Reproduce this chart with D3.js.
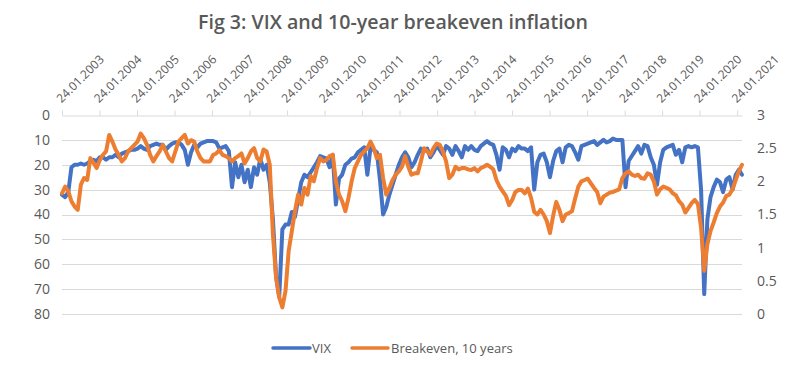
<!DOCTYPE html>
<html>
<head>
<meta charset="utf-8">
<script src="https://cdn.jsdelivr.net/npm/d3@7"></script>
<style>
  html, body { margin: 0; padding: 0; background: #fff; }
  svg { display: block; }
  text { font-family: "Open Sans", "Noto Sans", sans-serif; fill: #595959; }
</style>
</head>
<body>
<svg id="chart" width="789" height="370"></svg>
<script>
// ---- data (evenly spaced samples from startDate to endDate) ----
const startDate = "2003-01-24";
const endDate = "2021-03-12";
const tickYears = [2003,2004,2005,2006,2007,2008,2009,2010,2011,2012,2013,2014,2015,2016,2017,2018,2019,2020,2021];
const vixTicks = [0,10,20,30,40,50,60,70,80];
const breakevenTicks = [0,0.5,1,1.5,2,2.5,3];
const seriesNames = ["VIX", "Breakeven, 10 years"];

const vix = [
  32, 33, 31, 21, 20, 20, 19.5, 20, 19.5, 18.5, 18, 18.5,
  17, 17, 18, 17, 17, 16, 17, 15.5, 15, 14.5, 14, 14,
  13.5, 12.5, 13.5, 14, 12.5, 12, 11.5, 12, 12, 14, 12.5, 11.5,
  11, 11, 12, 14, 20, 15, 12, 13, 11.5, 11, 10.5, 10.5,
  10.5, 11, 13.5, 13, 12.5, 14.5, 29, 19, 25, 20, 27, 22,
  29, 21, 24, 17.5, 22, 20, 27, 42, 65, 73, 46, 44,
  44, 39, 41, 34, 27, 24, 25, 23, 21, 19, 16.5, 17,
  17.5, 21, 16, 36, 25.5, 24, 20, 19, 17.5, 17, 15, 14,
  13, 24, 13, 14, 15, 26, 40, 37, 32, 28, 24, 20,
  17, 15, 17, 21, 19, 16, 13.5, 14.5, 13.5, 17, 15, 12.5,
  14, 16, 12.5, 13.5, 16, 12.5, 14.5, 17, 12.5, 14, 12.5, 14,
  14.5, 12.5, 11.5, 10.5, 11.5, 12, 16, 22, 13, 14, 17, 13.5,
  14.5, 12.5, 13.5, 13.5, 14.5, 13, 30, 19, 16, 15.5, 19, 25,
  18.5, 14.5, 13.5, 19, 13, 12, 12.5, 15, 18, 12.5, 12, 11.5,
  11, 10.5, 12, 11, 10, 11, 10.5, 9.5, 10, 10, 10, 29,
  18.5, 16.5, 14.5, 12.5, 15.5, 12, 12.5, 17, 20, 28, 19, 14,
  13, 12.5, 12, 16, 14, 19, 13, 12.5, 13, 12.5, 13, 30,
  72, 42, 33, 29, 26, 27, 31, 26, 25, 30, 24, 22,
  24
];

const breakeven = [
  1.82, 1.92, 1.85, 1.7, 1.62, 1.57, 1.95, 2.05, 2.02, 2.35, 2.28, 2.2,
  2.32, 2.4, 2.45, 2.7, 2.6, 2.48, 2.4, 2.3, 2.35, 2.45, 2.5, 2.55,
  2.6, 2.72, 2.65, 2.55, 2.4, 2.3, 2.38, 2.45, 2.55, 2.45, 2.35, 2.3,
  2.45, 2.6, 2.65, 2.7, 2.57, 2.62, 2.6, 2.45, 2.35, 2.3, 2.3, 2.3,
  2.4, 2.42, 2.47, 2.4, 2.38, 2.35, 2.3, 2.35, 2.38, 2.42, 2.27, 2.35,
  2.45, 2.5, 2.35, 2.3, 2.48, 2.45, 2.25, 1.2, 0.55, 0.25, 0.1, 0.35,
  0.95, 1.25, 1.55, 1.8, 1.65, 1.9, 1.8, 2.08, 2.0, 2.2, 2.35, 2.3,
  2.32, 2.38, 2.4, 2.0, 1.8, 1.7, 1.55, 1.75, 2.0, 2.2, 2.3, 2.4,
  2.45, 2.5, 2.6, 2.5, 2.35, 2.4, 2.05, 1.8, 1.9, 2.02, 2.1, 2.15,
  2.22, 2.38, 2.22, 2.1, 2.12, 2.12, 2.3, 2.5, 2.45, 2.4, 2.5, 2.57,
  2.55, 2.45, 2.3, 2.05, 2.1, 2.22, 2.18, 2.2, 2.2, 2.18, 2.17, 2.2,
  2.15, 2.2, 2.22, 2.25, 2.22, 2.18, 2.02, 1.92, 1.85, 1.78, 1.64, 1.72,
  1.84, 1.87, 1.87, 1.82, 1.89, 1.75, 1.54, 1.5, 1.57, 1.5, 1.4, 1.22,
  1.48, 1.69, 1.57, 1.4, 1.5, 1.52, 1.55, 1.74, 1.92, 2.0, 2.02, 2.04,
  1.97, 1.9, 1.84, 1.67, 1.77, 1.8, 1.83, 1.84, 1.86, 1.88, 2.05, 2.12,
  2.15, 2.1, 2.08, 2.1, 2.05, 2.04, 2.12, 2.1, 2.0, 1.8, 1.88, 1.92,
  1.9, 1.88, 1.82, 1.79, 1.7, 1.65, 1.53, 1.6, 1.67, 1.72, 1.66, 1.3,
  0.65, 1.05, 1.25, 1.38, 1.52, 1.62, 1.68, 1.78, 1.8, 1.88, 2.02, 2.15,
  2.25
];

// ---- layout ----
const svg = d3.select("#chart");
const plotLeft = 62, plotRight = 742, plotTop = 115, plotBottom = 314;
const colors = ["#4472C4", "#ED7D31"];

const parse = d3.timeParse("%Y-%m-%d");
const t0 = parse(startDate), t1 = parse(endDate);
const step = (t1 - t0) / (vix.length - 1);
const dates = vix.map((_, i) => new Date(+t0 + i * step));

const x = d3.scaleTime().domain([t0, t1]).range([plotLeft, plotRight]);
const yV = d3.scaleLinear().domain([0, 80]).range([plotTop, plotBottom]);
const yB = d3.scaleLinear().domain([0, 3]).range([plotBottom, plotTop]);

// title
const title = svg.append("text")
  .attr("x", 393).attr("y", 29)
  .attr("text-anchor", "middle")
  .style("font-size", "20px").style("font-weight", 600)
  .text("Fig 3: VIX and 10-year breakeven inflation");
const tw = title.node().getComputedTextLength();
if (tw > 392) title.attr("textLength", 390).attr("lengthAdjust", "spacingAndGlyphs");

// gridlines
svg.append("g")
  .selectAll("line")
  .data(vixTicks.filter(d => d > 0))
  .join("line")
  .attr("x1", plotLeft).attr("x2", plotRight)
  .attr("y1", d => Math.round(yV(d)) + 0.5).attr("y2", d => Math.round(yV(d)) + 0.5)
  .attr("stroke", "#d9d9d9").attr("stroke-width", 1);

// top date axis
const tickDates = tickYears.map(yr => new Date(yr, 0, 24));
const fmt = d3.timeFormat("%d.%m.%Y");
const xAxis = svg.append("g")
  .attr("transform", `translate(0,${Math.round(plotTop) + 0.5})`)
  .call(d3.axisTop(x).tickValues(tickDates).tickFormat(fmt).tickSize(5).tickSizeOuter(0));
xAxis.select(".domain").attr("stroke", "#d9d9d9");
xAxis.selectAll(".tick line").attr("stroke", "#d9d9d9");
xAxis.selectAll(".tick text")
  .attr("text-anchor", "start")
  .attr("x", 0).attr("y", 0).attr("dy", 0)
  .attr("transform", "translate(-1,-12) rotate(-45)")
  .style("font-size", "12px").style("font-family", "'Open Sans', sans-serif")
  .attr("fill", "#595959");

// left axis
const yAxisL = svg.append("g")
  .attr("transform", `translate(${plotLeft},0)`)
  .call(d3.axisLeft(yV).tickValues(vixTicks).tickSize(0).tickPadding(12));
yAxisL.select(".domain").remove();
yAxisL.selectAll("text").style("font-size", "14px").style("font-family", "'Open Sans', sans-serif").attr("fill", "#595959");

// right axis
const yAxisR = svg.append("g")
  .attr("transform", `translate(${plotRight},0)`)
  .call(d3.axisRight(yB).tickValues(breakevenTicks).tickFormat(d => String(d)).tickSize(0).tickPadding(15));
yAxisR.select(".domain").remove();
yAxisR.selectAll("text").style("font-size", "14px").style("font-family", "'Open Sans', sans-serif").attr("fill", "#595959");

// lines
const lineV = d3.line().x((d, i) => x(dates[i])).y(d => yV(d));
const lineB = d3.line().x((d, i) => x(dates[i])).y(d => yB(d));
svg.append("path").datum(vix)
  .attr("d", lineV).attr("fill", "none")
  .attr("stroke", colors[0]).attr("stroke-width", 4)
  .attr("stroke-linejoin", "round").attr("stroke-linecap", "round");
svg.append("path").datum(breakeven)
  .attr("d", lineB).attr("fill", "none")
  .attr("stroke", colors[1]).attr("stroke-width", 4)
  .attr("stroke-linejoin", "round").attr("stroke-linecap", "round");

// legend
const legend = svg.append("g");
const legendItems = [
  { name: seriesNames[0], x1: 273, x2: 310, tx: 312, color: colors[0] },
  { name: seriesNames[1], x1: 352, x2: 388, tx: 391, color: colors[1] }
];
legendItems.forEach(it => {
  legend.append("line")
    .attr("x1", it.x1).attr("x2", it.x2).attr("y1", 348).attr("y2", 348)
    .attr("stroke", it.color).attr("stroke-width", 3.5).attr("stroke-linecap", "round");
  legend.append("text")
    .attr("x", it.tx).attr("y", 352.5)
    .style("font-size", "13px")
    .text(it.name);
});
</script>
</body>
</html>
